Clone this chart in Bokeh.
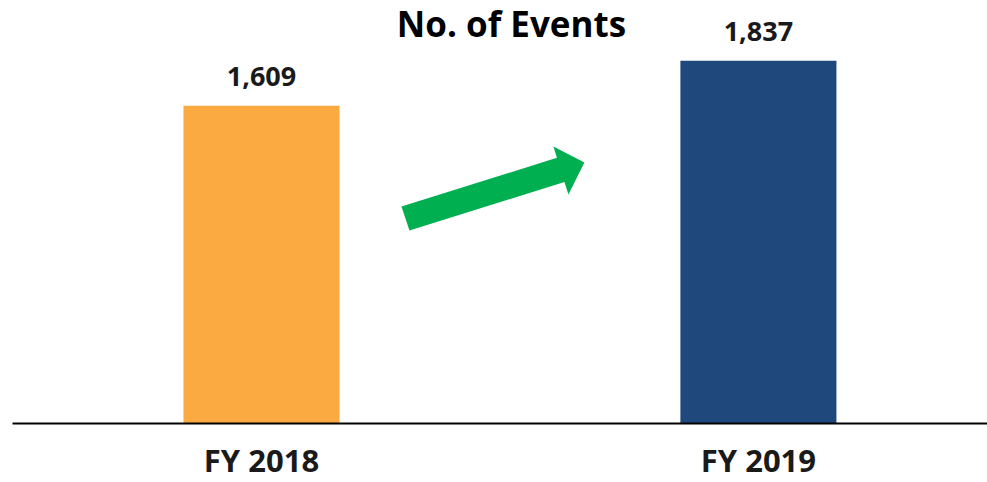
from bokeh.plotting import figure
from bokeh.models import ColumnDataSource, Range1d, Label, FixedTicker
from bokeh.core.properties import value
from bokeh.embed import file_html
from bokeh.resources import INLINE

categories = ["FY 2018", "FY 2019"]
events = [1609, 1837]
value_labels = ["1,609", "1,837"]
bar_colors = ["#FBAA42", "#1F497D"]
title_text = "No. of Events"

xs = list(range(len(categories)))
src = ColumnDataSource(dict(x=xs, top=events, label=value_labels, color=bar_colors))

p = figure(width=987, height=474, output_backend="svg", toolbar_location=None,
           x_range=Range1d(-0.501, 1.461), y_range=Range1d(0, 2102),
           frame_width=975, frame_height=415,
           min_border_left=12, min_border_right=0, min_border_top=8, min_border_bottom=0)
p.outline_line_color = None
p.xgrid.visible = False
p.ygrid.visible = False
p.yaxis.visible = False
p.background_fill_color = "white"
p.border_fill_color = "white"

p.vbar(x="x", top="top", width=0.314, color="color", source=src, line_color=None)

p.text(x="x", y="top", text="label", source=src, y_offset=-29,
       text_align="center", text_baseline="alphabetic",
       text_font=value("Open Sans"), text_font_style="bold",
       text_font_size="27px", text_color="#1a1a1a")

# decorative green arrow (pixel geometry converted to data space)
def to_data(px, py):
    return (px - 261) / 497.0, (423 - py) / 0.1974

arrow_px = [(409, 230), (401, 206), (556.5, 157.4), (553, 146), (584, 162), (568, 194), (564, 181.6)]
ax = [to_data(a, b)[0] for a, b in arrow_px]
ay = [to_data(a, b)[1] for a, b in arrow_px]
p.patch(ax, ay, fill_color="#00B050", line_color=None)

title = Label(x=0.503, y=2025, text=title_text, text_align="center", text_baseline="alphabetic",
              text_font="Open Sans", text_font_style="bold", text_font_size="35px",
              text_color="black")
p.add_layout(title)

p.xaxis.ticker = FixedTicker(ticks=xs)
p.xaxis.major_label_overrides = {i: c for i, c in zip(xs, categories)}
p.xaxis.major_tick_line_color = None
p.xaxis.minor_tick_line_color = None
p.xaxis.axis_line_color = "black"
p.xaxis.axis_line_width = 2
p.xaxis.major_label_text_font = "Open Sans"
p.xaxis.major_label_text_font_style = "bold"
p.xaxis.major_label_text_font_size = "31px"
p.xaxis.major_label_text_color = "#1a1a1a"
p.xaxis.major_label_standoff = 9

open("out.html", "w").write(file_html(p, INLINE))
